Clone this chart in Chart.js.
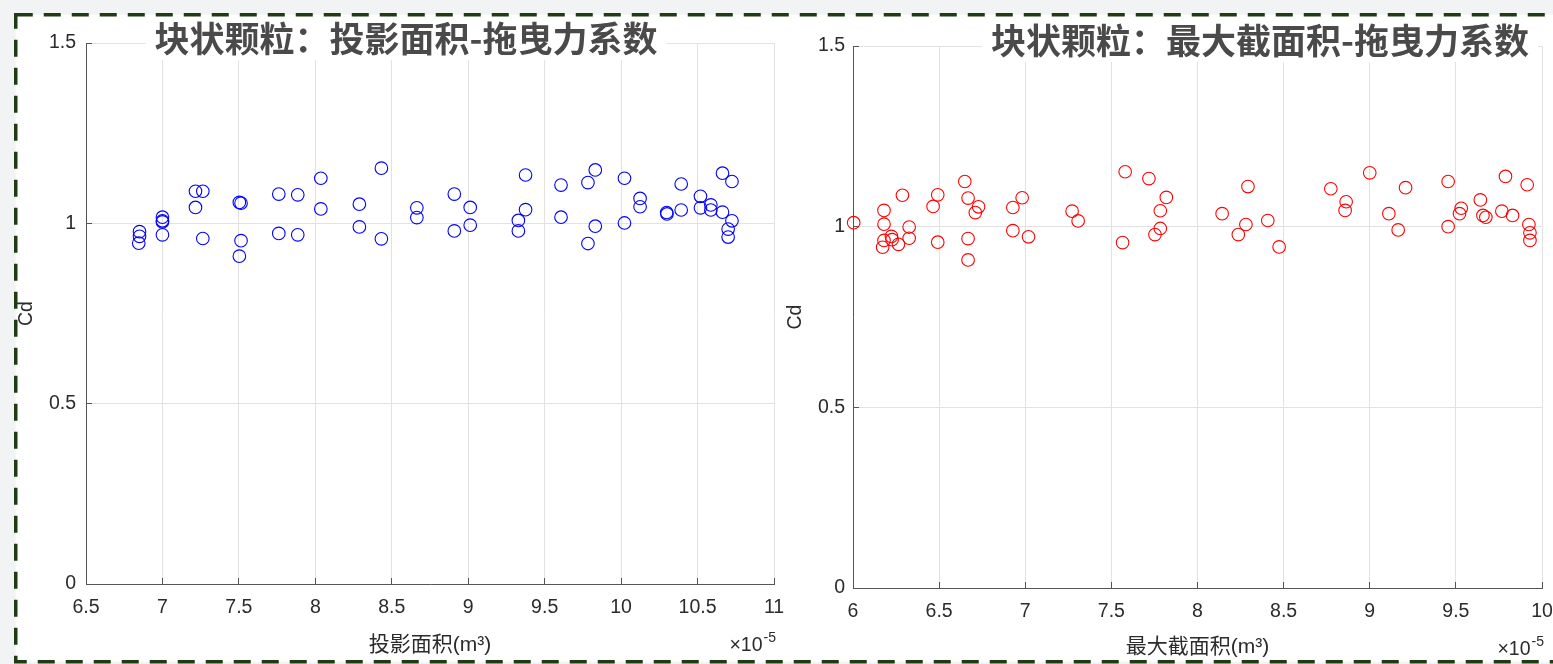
<!DOCTYPE html>
<html>
<head>
<meta charset="utf-8">
<script src="https://cdn.jsdelivr.net/npm/chart.js@4.4.1/dist/chart.umd.min.js"></script>
<style>
  html, body { margin: 0; padding: 0; background: #f2f3f5; }
  #page { position: relative; width: 1553px; height: 664px; overflow: hidden; background: #f2f3f5; }
  #frame { position: absolute; left: 0; top: 0; }
  #leftWrap { position: absolute; left: 0; top: 0; width: 800px; height: 664px; }
  #rightWrap { position: absolute; left: 780px; top: 0; width: 773px; height: 664px; }
  canvas { display: block; }
</style>
</head>
<body>
<div id="page">
  <svg id="frame" width="1553" height="664">
    <rect x="15.75" y="14.75" width="1600" height="647" fill="#ffffff" stroke="#1f3b12" stroke-width="3.5" stroke-dasharray="17 11"/>
  </svg>
  <div id="leftWrap"><canvas id="areaChart" width="800" height="664" style="width:800px;height:664px"></canvas></div>
  <div id="rightWrap"><canvas id="sectionChart" width="773" height="664" style="width:773px;height:664px"></canvas></div>
</div>
<script>
// 投影面积 (x 1e-5) vs Cd
const areaX = [6.85, 6.85, 6.845, 7.0, 7.0, 7.0, 7.0, 7.216, 7.264, 7.216, 7.264, 7.503, 7.514, 7.514, 7.503,
  7.761, 7.885, 7.761, 7.885, 8.036, 8.036, 8.432, 8.288, 8.288, 8.432, 8.664, 8.664, 8.909, 8.909, 9.013, 9.013,
  9.375, 9.375, 9.328, 9.328, 9.607, 9.607, 9.831, 9.783, 9.831, 9.783, 10.022, 10.022, 10.124, 10.124, 10.298, 10.30,
  10.393, 10.393, 10.519, 10.519, 10.587, 10.587, 10.663, 10.663, 10.725, 10.725, 10.70, 10.70];
const areaCd = [0.977, 0.964, 0.945, 1.017, 1.007, 1.004, 0.968, 1.089, 1.089, 1.044, 0.958, 1.058, 1.056, 0.952, 0.909,
  1.081, 1.079, 0.972, 0.968, 1.125, 1.040, 1.153, 1.053, 0.990, 0.957, 1.043, 1.016, 1.081, 0.979, 1.044, 0.995,
  1.134, 1.038, 1.008, 0.979, 1.106, 1.017, 1.148, 1.113, 0.992, 0.944, 1.125, 1.001, 1.069, 1.046, 1.030, 1.026,
  1.109, 1.037, 1.075, 1.043, 1.051, 1.037, 1.139, 1.031, 1.116, 1.007, 0.984, 0.962];

// 最大截面积 (x 1e-5) vs Cd
const sectionX = [6.004, 6.180, 6.180, 6.180, 6.172, 6.223, 6.227, 6.264, 6.287, 6.326, 6.326, 6.465, 6.492, 6.492,
  6.649, 6.668, 6.668, 6.668, 6.729, 6.710, 6.928, 6.982, 6.928, 7.019,
  7.272, 7.307, 7.580, 7.718, 7.819, 7.784, 7.784, 7.753, 7.565, 8.143, 8.293, 8.281, 8.237, 8.408, 8.474,
  8.774, 8.863, 8.857, 9.000, 9.208, 9.111, 9.165, 9.455, 9.455, 9.531, 9.521, 9.642, 9.657, 9.674, 9.788,
  9.767, 9.829, 9.914, 9.924, 9.930, 9.930];
const sectionCd = [1.011, 1.045, 1.007, 0.962, 0.943, 0.973, 0.964, 0.951, 1.087, 0.999, 0.968, 1.056, 1.088, 0.957,
  1.125, 1.079, 0.967, 0.908, 1.055, 1.039, 1.053, 1.080, 0.989, 0.972,
  1.043, 1.016, 1.152, 1.133, 1.081, 1.044, 0.995, 0.978, 0.956, 1.036, 1.111, 1.006, 0.978, 1.017, 0.944,
  1.105, 1.069, 1.045, 1.149, 1.108, 1.036, 0.991, 1.125, 1.000, 1.051, 1.036, 1.074, 1.031, 1.026, 1.139,
  1.043, 1.031, 1.116, 1.006, 0.983, 0.962];

const areaTicks = [6.5, 7, 7.5, 8, 8.5, 9, 9.5, 10, 10.5, 11];
const sectionTicks = [6, 6.5, 7, 7.5, 8, 8.5, 9, 9.5, 10];
const cdTicks = [0, 0.5, 1, 1.5];

const textColor = '#2b2b2b';
const axisColor = '#555555';
const gridColor = '#e2e2e2';
const tickFont = { family: "'Liberation Sans', sans-serif", size: 19.5 };
const labelFont = { family: "'Liberation Sans', 'Noto Sans CJK SC', sans-serif", size: 21 };

// draws the title (on a white box) and the x10^-5 note
const boxTitle = {
  id: 'boxTitle',
  afterDraw(chart, args, opts) {
    const ctx = chart.ctx;
    const area = chart.chartArea;
    ctx.save();
    ctx.font = 'bold 35px "Noto Sans CJK SC", sans-serif';
    const w = ctx.measureText(opts.text).width;
    ctx.fillStyle = '#ffffff';
    ctx.fillRect(opts.x - w / 2 - 9, opts.y - 21, w + 18, 42);
    ctx.fillStyle = '#4a4a4a';
    ctx.textAlign = 'center';
    ctx.textBaseline = 'middle';
    ctx.fillText(opts.text, opts.x, opts.y);

    ctx.fillStyle = textColor;
    ctx.textAlign = 'right';
    ctx.textBaseline = 'alphabetic';
    ctx.font = "14px 'Liberation Sans', sans-serif";
    const right = area.right + 2;
    ctx.fillText('-5', right, area.bottom + 58);
    const ew = ctx.measureText('-5').width;
    ctx.font = "19.5px 'Liberation Sans', sans-serif";
    ctx.fillText('\u00d710', right - ew - 1, area.bottom + 67);
    ctx.restore();
  }
};

function buildScales(xTicks, xTitle, fit) {
  return {
    x: {
      type: 'linear',
      min: xTicks[0],
      max: xTicks[xTicks.length - 1],
      afterBuildTicks: s => { s.ticks = xTicks.map(v => ({ value: v })); },
      afterFit: s => { s.height = fit.xHeight; s.paddingLeft = 0; s.paddingRight = 0; },
      grid: { color: gridColor, lineWidth: 1, tickColor: axisColor, tickLength: -6, tickWidth: 1 },
      border: { display: true, color: axisColor, width: 1 },
      ticks: { autoSkip: false, maxRotation: 0, padding: 18.3, color: textColor, font: tickFont,
        callback: v => String(v) },
      title: { display: true, text: xTitle, color: textColor, font: labelFont,
        padding: { top: 0, bottom: fit.xTitlePad } }
    },
    y: {
      type: 'linear',
      min: cdTicks[0],
      max: cdTicks[cdTicks.length - 1],
      afterBuildTicks: s => { s.ticks = cdTicks.map(v => ({ value: v })); },
      afterFit: s => { s.width = fit.yWidth; s.paddingTop = 0; s.paddingBottom = 0; },
      grid: { color: gridColor, lineWidth: 1, tickColor: axisColor, tickLength: -6, tickWidth: 1 },
      border: { display: true, color: axisColor, width: 1 },
      ticks: { padding: fit.yTickPad, color: textColor, font: tickFont, callback: v => String(v) },
      title: { display: true, text: 'Cd', color: textColor, font: tickFont,
        padding: { top: fit.yTitlePad, bottom: 0 } }
    }
  };
}

function makeChart(id, xs, ys, color, xTicks, xTitle, title, fit) {
  return new Chart(document.getElementById(id), {
    type: 'scatter',
    data: {
      datasets: [{
        data: xs.map((x, i) => ({ x: x, y: ys[i] })),
        borderColor: color,
        backgroundColor: 'rgba(0,0,0,0)',
        pointRadius: 6.3,
        pointHoverRadius: 6.3,
        borderWidth: 1.1,
        clip: false
      }]
    },
    options: {
      responsive: false,
      animation: false,
      events: [],
      layout: { padding: fit.padding },
      plugins: {
        legend: { display: false },
        tooltip: { enabled: false },
        boxTitle: { text: title, x: fit.titleX, y: fit.titleY }
      },
      scales: buildScales(xTicks, xTitle, fit)
    },
    plugins: [boxTitle]
  });
}

makeChart('areaChart', areaX, areaCd, '#0000ff', areaTicks, '投影面积(m\u00b3)',
  '块状颗粒：投影面积-拖曳力系数',
  { padding: { left: 0, top: 43, right: 26, bottom: 0 }, yWidth: 86, xHeight: 80,
    yTickPad: 16, yTitlePad: 15.3, xTitlePad: 6, titleX: 406, titleY: 39 });

makeChart('sectionChart', sectionX, sectionCd, '#ff0000', sectionTicks, '最大截面积(m\u00b3)',
  '块状颗粒：最大截面积-拖曳力系数',
  { padding: { left: 0, top: 46, right: 11, bottom: 0 }, yWidth: 73, xHeight: 76,
    yTickPad: 14, yTitlePad: 4.3, xTitlePad: 4, titleX: 480, titleY: 41 });
</script>
</body>
</html>
